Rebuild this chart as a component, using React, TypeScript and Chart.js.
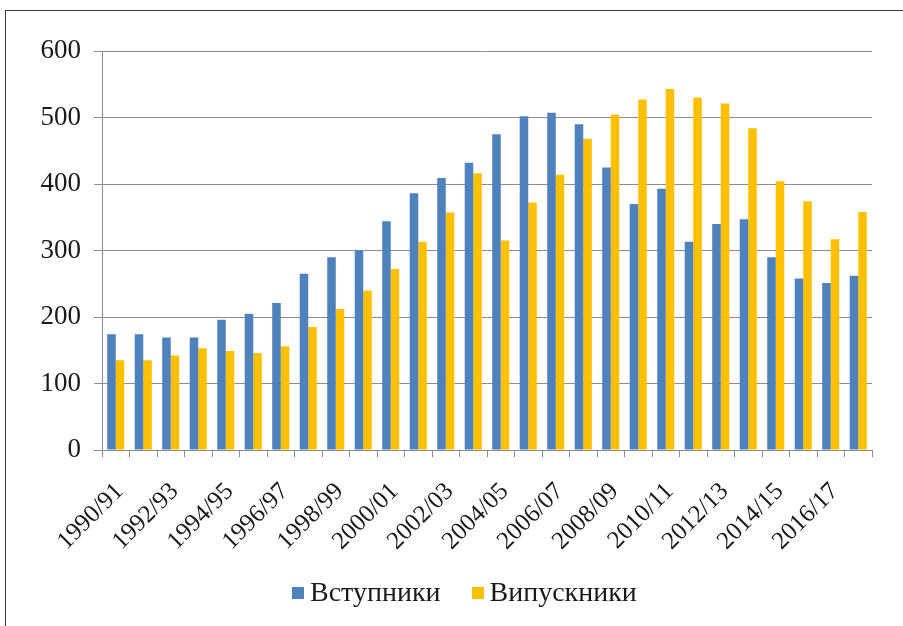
import React, { useEffect, useRef } from "react";
import { Chart, registerables } from "chart.js";

Chart.register(...registerables);

const categories = [
  "1990/91", "1991/92", "1992/93", "1993/94", "1994/95", "1995/96", "1996/97",
  "1997/98", "1998/99", "1999/00", "2000/01", "2001/02", "2002/03", "2003/04",
  "2004/05", "2005/06", "2006/07", "2007/08", "2008/09", "2009/10", "2010/11",
  "2011/12", "2012/13", "2013/14", "2014/15", "2015/16", "2016/17", "2017/18",
];

const entrants = [
  174, 174, 169, 169, 196, 205, 221, 265, 290, 300, 344, 386, 409, 432,
  475, 502, 507, 490, 425, 370, 393, 313, 340, 347, 290, 258, 251, 262,
];

const graduates = [
  135, 135, 142, 153, 149, 146, 156, 185, 212, 240, 272, 313, 357, 416,
  315, 372, 414, 468, 504, 527, 543, 530, 521, 484, 404, 374, 317, 358,
];

const yTicks = [0, 100, 200, 300, 400, 500, 600];

const seriesNames = ["Вступники", "Випускники"];
const seriesColors = ["#4F81BD", "#FFC000"];

const FONT = "'Liberation Serif', 'Times New Roman', serif";

export default function App() {
  const canvasRef = useRef<HTMLCanvasElement | null>(null);

  useEffect(() => {
    if (!canvasRef.current) return;
    const chart = new Chart(canvasRef.current, {
      type: "bar",
      data: {
        labels: categories,
        datasets: [
          {
            label: seriesNames[0],
            data: entrants,
            backgroundColor: seriesColors[0],
            categoryPercentage: 0.62,
            barPercentage: 1.0,
          },
          {
            label: seriesNames[1],
            data: graduates,
            backgroundColor: seriesColors[1],
            categoryPercentage: 0.62,
            barPercentage: 1.0,
          },
        ],
      },
      options: {
        animation: false,
        responsive: false,
        maintainAspectRatio: false,
        layout: { padding: { top: 51, right: 31, bottom: 66, left: 0 } },
        plugins: {
          tooltip: { enabled: false },
          legend: { display: false },
        },
        scales: {
          x: {
            offset: true,
            grid: {
              offset: true,
              drawOnChartArea: false,
              drawTicks: true,
              tickLength: 7,
              color: "#8c8c8c",
            },
            border: { color: "#8c8c8c", width: 1 },
            ticks: {
              autoSkip: false,
              minRotation: 45,
              maxRotation: 45,
              padding: 20,
              labelOffset: 4,
              color: "#1a1a1a",
              font: { family: FONT, size: 25 },
              callback: function (this: any, val: any, idx: number) {
                return idx % 2 === 0 ? categories[idx] : "";
              },
            },
            afterFit: (scale: any) => {
              scale.height = 110;
            },
          },
          y: {
            min: 0,
            max: 600,
            afterBuildTicks: (scale: any) => {
              scale.ticks = yTicks.map((v) => ({ value: v }));
            },
            grid: {
              color: "#8c8c8c",
              tickLength: 8,
              lineWidth: 1,
            },
            border: { color: "#8c8c8c", width: 1 },
            ticks: {
              padding: 13,
              color: "#1a1a1a",
              font: { family: FONT, size: 27 },
            },
            afterFit: (scale: any) => {
              scale.width = 102;
            },
          },
        },
      },
    });
    return () => chart.destroy();
  }, []);

  return (
    <div
      style={{
        position: "absolute",
        left: 0,
        top: 0,
        width: 903,
        height: 626,
        background: "#ffffff",
        overflow: "hidden",
      }}
    >
      <div
        style={{
          position: "absolute",
          left: 5,
          top: 10,
          right: 0,
          bottom: 0,
          borderLeft: "1px solid #3a3a3a",
          borderTop: "1px solid #3a3a3a",
        }}
      />
      <canvas
        ref={canvasRef}
        width={903}
        height={626}
        style={{ position: "absolute", left: 0, top: 0, width: 903, height: 626 }}
      />
      <div
        style={{
          position: "absolute",
          left: 292,
          top: 574,
          display: "flex",
          alignItems: "center",
          fontFamily: FONT,
          fontSize: 28,
          lineHeight: "36px",
          color: "#1a1a1a",
          whiteSpace: "nowrap",
        }}
      >
        {seriesNames.map((name, i) => (
          <div
            key={name}
            style={{ display: "flex", alignItems: "center", marginRight: i === 0 ? 31 : 0 }}
          >
            <span
              style={{
                display: "inline-block",
                width: 12,
                height: 12,
                background: seriesColors[i],
                marginRight: 6,
                marginTop: 2,
              }}
            />
            <span>{name}</span>
          </div>
        ))}
      </div>
    </div>
  );
}
